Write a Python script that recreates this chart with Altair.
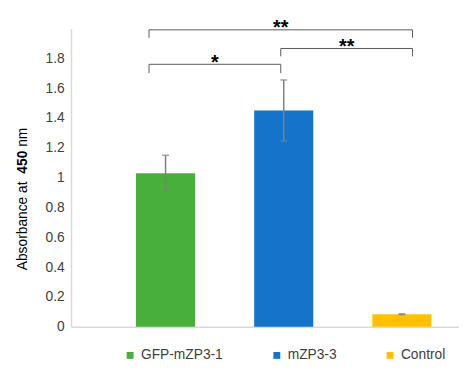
import altair as alt
import pandas as pd

groups = ["GFP-mZP3-1", "mZP3-3", "Control"]
means = [1.03, 1.45, 0.085]
errs = [0.12, 0.205, 0.003]
colors = ["#48AE3C", "#1573CA", "#FFC000"]

# significance brackets (x in category-index units, y in absorbance units)
br_left = [-0.14, 0.975, -0.14]
br_right = [0.975, 2.09, 2.09]
br_top = [1.760, 1.866, 1.991]
br_leg = [1.701, 1.813, 1.938]
stars = ["*", "**", "**"]
star_y = [1.806, 1.912, 2.037]

y_ticks = [0, 0.2, 0.4, 0.6, 0.8, 1, 1.2, 1.4, 1.6, 1.8]

FONT = "Liberation Sans"
W, H = 394, 303

df = pd.DataFrame({"group": groups, "mean": means, "err": errs})
df["lo"] = df["mean"] - df["err"]
df["hi"] = df["mean"] + df["err"]

br = pd.DataFrame({"l": br_left, "r": br_right, "top": br_top, "leg": br_leg,
                   "s": stars, "sy": star_y})
br["mid"] = (br["l"] + br["r"]) / 2

yscale = alt.Scale(domain=[0, 2.0], nice=False)
yaxis = alt.Axis(title=None, values=y_ticks, grid=False, ticks=False,
                 labelFont=FONT, labelFontSize=14, labelColor="#404040",
                 labelPadding=7, domainColor="#D9D9D9", domainWidth=1.5,
                 labelExpr="format(datum.value, '~g')")

xband = alt.X("group:N", sort=groups,
              scale=alt.Scale(paddingInner=0.5, paddingOuter=0.39167, align=0.7021),
              axis=alt.Axis(title=None, labels=False, ticks=False, domainColor="#D9D9D9",
                            domainWidth=1.5))

bars = alt.Chart(df).mark_bar().encode(
    x=xband,
    y=alt.Y("mean:Q", scale=yscale, axis=yaxis),
    color=alt.Color("group:N", sort=groups,
                    scale=alt.Scale(domain=groups, range=colors),
                    legend=alt.Legend(title=None, orient="none", direction="horizontal",
                                      legendX=53, legendY=325, symbolType="square",
                                      symbolSize=49, symbolStrokeWidth=0,
                                      labelFont=FONT, labelFontSize=14,
                                      labelColor="#404040", columnPadding=47,
                                      labelOffset=4)),
)

err_rule = alt.Chart(df).mark_rule(color="#7F7F7F", strokeWidth=1.5).encode(
    x=alt.X("group:N", sort=groups), y=alt.Y("lo:Q", scale=yscale, axis=yaxis), y2="hi:Q")
cap_hi = alt.Chart(df).mark_tick(color="#7F7F7F", thickness=1.5, size=7, orient="horizontal").encode(
    x=alt.X("group:N", sort=groups), y=alt.Y("hi:Q", scale=yscale, axis=yaxis))
cap_lo = alt.Chart(df).mark_tick(color="#7F7F7F", thickness=1.5, size=7, orient="horizontal").encode(
    x=alt.X("group:N", sort=groups), y=alt.Y("lo:Q", scale=yscale, axis=yaxis))

base_layer = alt.layer(bars, err_rule, cap_hi, cap_lo)

xlin = alt.Scale(domain=[-0.8, W / 120 - 0.8], nice=False, zero=False)
bcol = "#595959"
h_rule = alt.Chart(br).mark_rule(color=bcol, strokeWidth=1).encode(
    x=alt.X("l:Q", scale=xlin, axis=None), x2="r:Q",
    y=alt.Y("top:Q", scale=yscale, axis=yaxis))
leg_l = alt.Chart(br).mark_rule(color=bcol, strokeWidth=1).encode(
    x=alt.X("l:Q", scale=xlin, axis=None), y=alt.Y("leg:Q", scale=yscale, axis=yaxis), y2="top:Q")
leg_r = alt.Chart(br).mark_rule(color=bcol, strokeWidth=1).encode(
    x=alt.X("r:Q", scale=xlin, axis=None), y=alt.Y("leg:Q", scale=yscale, axis=yaxis), y2="top:Q")
star_txt = alt.Chart(br).mark_text(font=FONT, fontSize=20, fontWeight="bold", color="#000000",
                                   baseline="alphabetic", dy=11.5).encode(
    x=alt.X("mid:Q", scale=xlin, axis=None), y=alt.Y("sy:Q", scale=yscale, axis=yaxis),
    text="s:N")

ann_layer = alt.layer(h_rule, leg_l, leg_r, star_txt)

t1 = alt.Chart(pd.DataFrame({"t": ["Absorbance at"]})).mark_text(
    font=FONT, fontSize=14, color="#000000", angle=270, align="left", baseline="middle").encode(
    x=alt.value(-49), y=alt.value(245.5), text="t:N")
t2 = alt.Chart(pd.DataFrame({"t": ["450"]})).mark_text(
    font=FONT, fontSize=14, fontWeight="bold", color="#000000", angle=270, align="left",
    baseline="middle").encode(x=alt.value(-49), y=alt.value(147.4), text="t:N")
t3 = alt.Chart(pd.DataFrame({"t": ["nm"]})).mark_text(
    font=FONT, fontSize=14, color="#000000", angle=270, align="left", baseline="middle").encode(
    x=alt.value(-49), y=alt.value(120.2), text="t:N")

chart = alt.layer(base_layer, ann_layer, t1, t2, t3).resolve_scale(x="independent").properties(
    width=W, height=H,
    autosize=alt.AutoSizeParams(type="none"),
    padding={"left": 64, "top": 18, "right": 0, "bottom": 41},
).configure_view(stroke=None)

chart.save("out.html", embed_options={"renderer": "svg", "actions": False})
